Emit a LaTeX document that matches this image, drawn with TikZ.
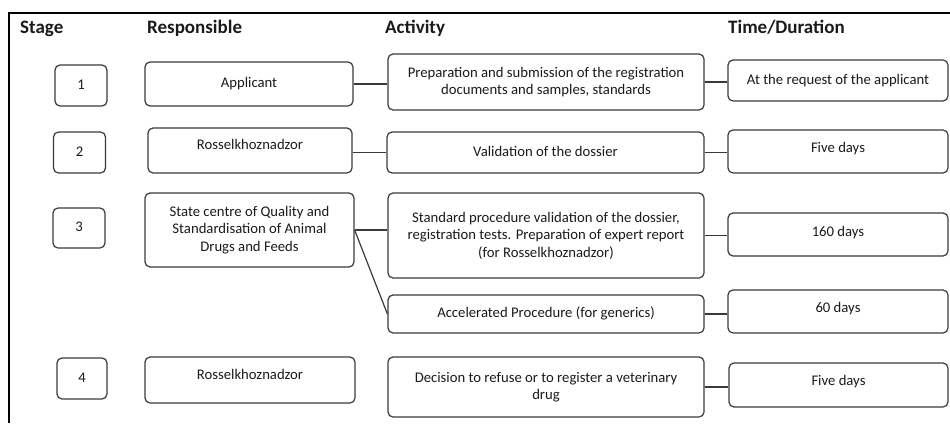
\documentclass[tikz,border=0pt]{standalone}
\usepackage{fontspec}
\setmainfont{Carlito}
\definecolor{boxline}{HTML}{3A3A3A}
\definecolor{txt}{HTML}{1A1A1A}
\begin{document}
\begin{tikzpicture}[x=1pt,y=-1pt,
  box/.style={draw=boxline, line width=1.2pt, rounded corners=5pt, align=center,
    text=txt, inner sep=0pt, font=\fontsize{14.7}{17.5}\selectfont},
  one/.style={text height=10pt, text depth=3pt},
  up/.style={text height=10pt, text depth=3pt+2*#1},
  hdr/.style={anchor=base west, inner sep=0pt, text=txt, font=\fontsize{19}{22}\selectfont\bfseries},
  conn/.style={draw=boxline, line width=1.2pt},
  frame/.style={draw=black, line width=2.2pt}
]
\useasboundingbox (0,0) rectangle (950,423);
% frame
\coordinate (fl) at (9,423);
\coordinate (ftl) at (9,13);
\coordinate (fr) at (951,13);
\draw[frame] (fl) -- (ftl) -- (fr);
% headers
\node[hdr] (h1) at (20,33) {Stage};
\node[hdr] (h2) at (147,33) {Responsible};
\node[hdr] (h3) at (385,33) {Activity};
\node[hdr] (h4) at (728,33) {Time/Duration};
% stage boxes
\node[box, one, minimum width=52pt, minimum height=41pt] (s1) at (81,85.5) {1};
\node[box, one, minimum width=52pt, minimum height=41pt] (s2) at (79.5,152.5) {2};
\node[box, one, minimum width=52pt, minimum height=40pt] (s3) at (79,228) {3};
\node[box, one, minimum width=50pt, minimum height=41pt] (s4) at (82,378.5) {4};
% responsible
\node[box, one, minimum width=208pt, minimum height=44pt] (r1) at (249,84) {Applicant};
\node[box, up=5pt, minimum width=204pt, minimum height=45pt] (r2) at (250,150.5) {Rosselkhoznadzor};
\node[box, minimum width=209pt, minimum height=74pt] (r3) at (249.5,230) {State centre of Quality and\\Standardisation of Animal\\Drugs and Feeds};
\node[box, up=4pt, minimum width=210pt, minimum height=46pt] (r4) at (250,380) {Rosselkhoznadzor};
% activity
\node[box, minimum width=316pt, minimum height=56pt] (a1) at (546,82) {Preparation and submission of the registration\\documents and samples, standards};
\node[box, one, minimum width=317pt, minimum height=41pt] (a2) at (545.5,152.5) {Validation of the dossier};
\node[box, minimum width=316pt, minimum height=85pt] (a3) at (546,235.5) {Standard procedure validation of the dossier,\\registration tests. Preparation of expert report\\(for Rosselkhoznadzor)};
\node[box, one, minimum width=316pt, minimum height=38pt] (a3b) at (546,314) {Accelerated Procedure (for generics)};
\node[box, minimum width=316pt, minimum height=60pt] (a4) at (546,387) {Decision to refuse or to register a veterinary\\drug};
% time
\node[box, one, minimum width=220pt, minimum height=41pt] (t1) at (838,80.5) {At the request of the applicant};
\node[box, up=3pt, minimum width=220pt, minimum height=43pt] (t2) at (838,151.5) {Five days};
\node[box, up=2pt, minimum width=220pt, minimum height=43pt] (t3) at (838,234.5) {160 days};
\node[box, up=3pt, minimum width=220pt, minimum height=43pt] (t3b) at (838,311.5) {60 days};
\node[box, up=3pt, minimum width=219pt, minimum height=44pt] (t4) at (838.5,385) {Five days};
% connectors
\draw[conn] (r1.east) -- (r1.east -| a1.west);
\draw[conn] (a1.east) -- (a1.east -| t1.west);
\draw[conn] (r2.east |- a2.west) -- (a2.west);
\draw[conn] (a2.east) -- (a2.east -| t2.west);
\draw[conn] (r3.east) -- (r3.east -| a3.west);
\draw[conn] (r3.east) -- (a3b.west);
\draw[conn] (a3.east) -- (a3.east -| t3.west);
\draw[conn] (a3b.east) -- (a3b.east -| t3b.west);
\draw[conn] (a4.east) -- (a4.east -| t4.west);
\end{tikzpicture}
\end{document}
